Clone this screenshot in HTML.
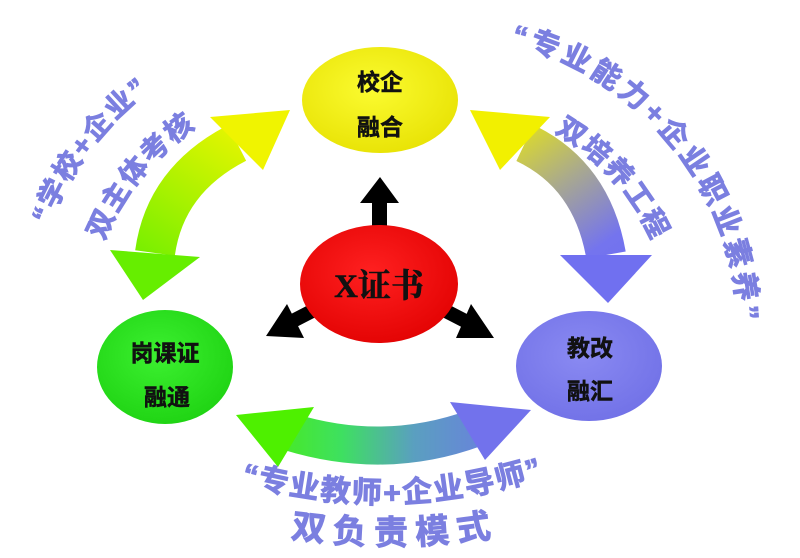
<!DOCTYPE html>
<html><head><meta charset="utf-8"><style>
html,body{margin:0;padding:0;background:#fff;width:800px;height:558px;overflow:hidden}
svg{display:block}
.t{font-family:"Liberation Sans","Noto Sans CJK SC",sans-serif;font-weight:bold;fill:#7b7fe0;stroke:#7b7fe0;stroke-width:0.9}
.n{font-family:"Liberation Sans","Noto Sans CJK SC",sans-serif;font-weight:bold;fill:#111;text-anchor:middle;stroke:#111;stroke-width:0.5}
</style></head><body>
<svg width="800" height="558" viewBox="0 0 800 558" xmlns="http://www.w3.org/2000/svg">
<defs>
<linearGradient id="gl" gradientUnits="userSpaceOnUse" x1="260" y1="120" x2="150" y2="290"><stop offset="0" stop-color="#f4f600"/><stop offset="1" stop-color="#66ee00"/></linearGradient>
<linearGradient id="gr" gradientUnits="userSpaceOnUse" x1="490" y1="120" x2="610" y2="290"><stop offset="0" stop-color="#f2f000"/><stop offset="0.45" stop-color="#a8a890"/><stop offset="0.8" stop-color="#7474ee"/><stop offset="1" stop-color="#7070f0"/></linearGradient>
<linearGradient id="gb" gradientUnits="userSpaceOnUse" x1="240" y1="0" x2="530" y2="0"><stop offset="0" stop-color="#4ef000"/><stop offset="0.35" stop-color="#3ee060"/><stop offset="0.6" stop-color="#5a9fc0"/><stop offset="1" stop-color="#7272ec"/></linearGradient>
<radialGradient id="cy" cx="0.45" cy="0.4" r="0.7"><stop offset="0" stop-color="#fbfb30"/><stop offset="1" stop-color="#e6e000"/></radialGradient>
<radialGradient id="cr" cx="0.45" cy="0.4" r="0.7"><stop offset="0" stop-color="#ff2020"/><stop offset="1" stop-color="#e00000"/></radialGradient>
<radialGradient id="cg" cx="0.45" cy="0.4" r="0.7"><stop offset="0" stop-color="#3cf030"/><stop offset="1" stop-color="#1cd010"/></radialGradient>
<radialGradient id="cb" cx="0.45" cy="0.4" r="0.7"><stop offset="0" stop-color="#8a8af2"/><stop offset="1" stop-color="#6f6fe6"/></radialGradient>
<path id="lo" d="M30,330 A300,300 0 0 1 278,35"/>
<path id="li" d="M87,330 A243,243 0 0 1 288,91"/>
<path id="ro" d="M400,38 A300,300 0 0 1 737,370"/>
<path id="ri" d="M420,103 A232,232 0 0 1 671,355"/>
<path id="bo" d="M200,470 Q392,540 585,462"/>
<path id="bi" d="M250,530 Q395,560 540,528"/>
</defs>

<path d="M237,143 Q165,180 155,253" fill="none" stroke="url(#gl)" stroke-width="40"/>
<polygon points="290,110 210,117 263,170" fill="#f0f400"/>
<polygon points="143,300 110,250 200,257" fill="#66ee00"/>
<path d="M525,143 Q592,175 606,255" fill="none" stroke="url(#gr)" stroke-width="40"/>
<polygon points="470,110 550,117 500,170" fill="#f2f000"/>
<polygon points="608,303 560,255 652,255" fill="#7070f0"/>
<path d="M290,432 Q385,461 475,428" fill="none" stroke="url(#gb)" stroke-width="38"/>
<polygon points="236,415 314,407 278,467" fill="#4ef000"/>
<polygon points="531,410 450,402 485,460" fill="#7272ec"/>

<rect x="372" y="200" width="15" height="30" fill="#000"/>
<polygon points="360,203 399,203 380,177" fill="#000"/>
<line x1="318" y1="308" x2="285" y2="325" stroke="#000" stroke-width="14"/>
<polygon points="266,336 287,304 304,338" fill="#000"/>
<line x1="440" y1="308" x2="473" y2="325" stroke="#000" stroke-width="14"/>
<polygon points="494,338 471,304 456,338" fill="#000"/>

<ellipse cx="380" cy="100" rx="78" ry="53" fill="url(#cy)"/>
<ellipse cx="379" cy="284" rx="79" ry="59" fill="url(#cr)"/>
<ellipse cx="165" cy="367" rx="68" ry="57" fill="url(#cg)"/>
<ellipse cx="589" cy="366" rx="73" ry="55" fill="url(#cb)"/>

<text class="n" x="380" y="90" font-size="23">校企</text>
<text class="n" x="380" y="135" font-size="23">融合</text>
<text class="n" x="379" y="297" font-size="33" style="font-family:'Liberation Serif','Noto Serif CJK SC',serif">X证书</text>
<text class="n" x="165" y="361" font-size="23">岗课证</text>
<text class="n" x="167" y="405" font-size="23">融通</text>
<text class="n" x="590" y="356" font-size="23">教改</text>
<text class="n" x="590" y="399" font-size="23">融汇</text>

<text class="t" font-size="28" text-anchor="middle" letter-spacing="2"><textPath href="#lo" startOffset="46%">“学校+企业”</textPath></text>
<text class="t" font-size="28" text-anchor="middle" letter-spacing="2"><textPath href="#li" startOffset="49%">双主体考核</textPath></text>
<text class="t" font-size="29" text-anchor="middle" letter-spacing="4"><textPath href="#ro" startOffset="56%">“专业能力+企业职业素养”</textPath></text>
<text class="t" font-size="28" text-anchor="middle" letter-spacing="2"><textPath href="#ri" startOffset="53%">双培养工程</textPath></text>
<text class="t" font-size="30" text-anchor="middle" letter-spacing="2"><textPath href="#bo" startOffset="50%">“专业教师+企业导师”</textPath></text>
<text class="t" font-size="34" text-anchor="middle" letter-spacing="8"><textPath href="#bi" startOffset="50%">双负责模式</textPath></text>
</svg>
</body></html>
